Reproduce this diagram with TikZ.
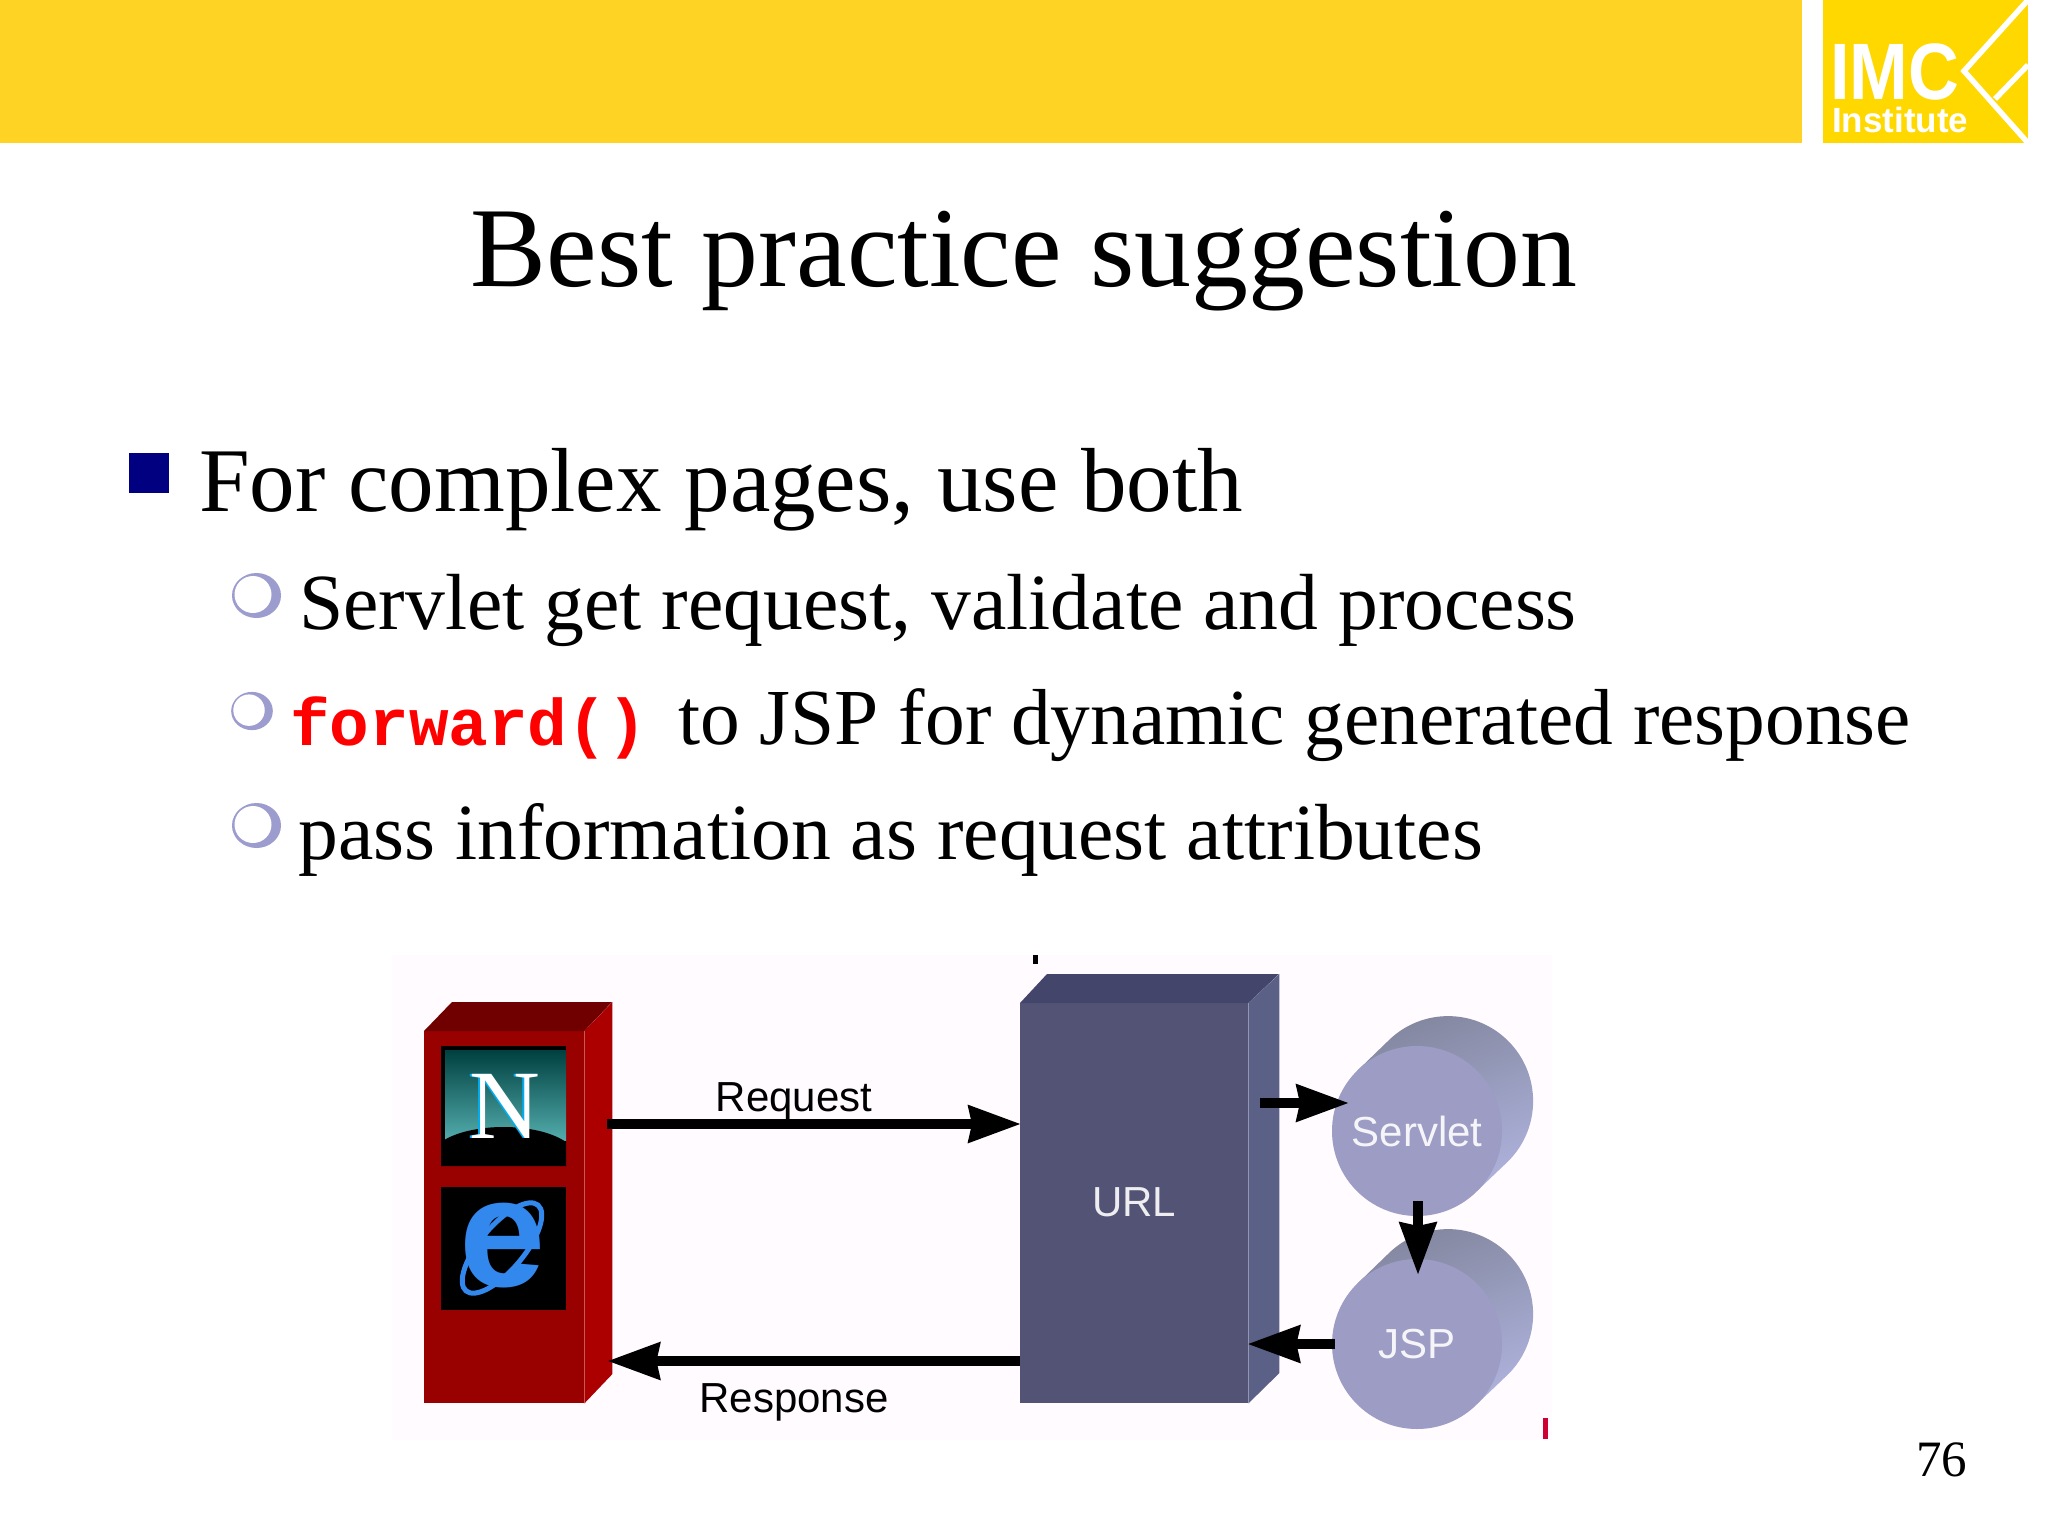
\documentclass[tikz,border=0pt]{standalone}
\usepackage{fontspec}
\setmainfont{Liberation Serif}
\setsansfont{Liberation Sans}
\setmonofont{Liberation Mono}
\usetikzlibrary{arrows.meta,calc,shapes.geometric}
\definecolor{bandyellow}{HTML}{FFD324}
\definecolor{logoyellow}{HTML}{FFD800}
\definecolor{bulletblue}{HTML}{000080}
\definecolor{ringblue}{HTML}{9C9CCF}
\definecolor{paneltint}{HTML}{FFFBFF}
\definecolor{redfront}{HTML}{990000}
\definecolor{redside}{HTML}{AC0000}
\definecolor{redtop}{HTML}{700000}
\definecolor{urlfront}{HTML}{525375}
\definecolor{urlside}{HTML}{5A6086}
\definecolor{urltop}{HTML}{44456A}
\definecolor{cylfront}{HTML}{9C9CC4}
\definecolor{cylside}{HTML}{AEB2DC}
\definecolor{cyltop}{HTML}{82869E}
\definecolor{ieblue}{HTML}{3388EE}
\tikzset{txt/.style = {inner sep = 0, anchor = base west, text = black},
         lone/.style = {txt, font = \fontsize{91}{100}\selectfont},
         ltwo/.style = {txt, font = \fontsize{79.6}{90}\selectfont},
         lbl/.style = {inner sep = 0, font = \sffamily\fontsize{42}{46}\selectfont},
         facebox/.style = {rectangle, inner sep = 0, anchor = north west, draw = none},
         flow/.style = {line width = 10pt, -{Stealth[length = 52pt, width = 36pt, inset = 3pt]}}
        }
\begin{document}
\begin{tikzpicture}[x = 1pt, y = -1pt]
\useasboundingbox (0,0) rectangle (2048,1536);
\fill[white] (0,0) rectangle (2048,1536);
\fill[bandyellow] (0,0) rectangle (1802,143);
\fill[logoyellow] (1823,0) rectangle (2028,143);
\draw[white, line width = 5.5pt] (2028,0) -- (1964,71) -- (2028,143);
\draw[white, line width = 5.5pt] (1995,99) -- (2028,65);
\node[inner sep = 0, text = white, xscale = 0.88, anchor = base west] (imc) at (1830,100) {\sffamily\bfseries\fontsize{80}{80}\selectfont IMC};
\node[inner sep = 0, text = white, anchor = base west] (inst) at (1832,133) {\sffamily\bfseries\fontsize{35}{38}\selectfont Institute};

\node[inner sep = 0, text = black, anchor = base] (title) at (1024,286) {\fontsize{113.8}{120}\selectfont Best practice suggestion};

\fill[bulletblue] (129,453) rectangle (169,493);
\foreach \n/\x/\y/\s in {1/256.5/595.5/1, 2/252/711/0.85, 3/256.5/825.5/1}
   {\begin{scope}[shift = {(\x,\y)}, scale = \s]
    \fill[ringblue] (0,0) ellipse [x radius = 24.5, y radius = 22.5];
    \fill[white] (-3.5,-1) ellipse [x radius = 18.5, y radius = 18.5];
    \end{scope}};
\node[lone] (first) at (199,511) {For complex pages, use both};
\node[ltwo] (second) at (299,629) {Servlet get request, validate and process};
\node[inner sep = 0, anchor = base west, text = red] (fwd) at (290,745) {\ttfamily\bfseries\fontsize{66}{70}\selectfont forward()};
\node[txt, font = \fontsize{79.4}{90}\selectfont] (third) at (678,744) {to JSP for dynamic generated response};
\node[ltwo] (fourth) at (298,859) {pass information as request attributes};

\fill[paneltint] (392,955) rectangle (1552,1440);
\fill[black] (1032.5,955) rectangle (1037.5,964);
\fill[red!80!blue] (1543,1418) rectangle (1547.5,1439);

\node[facebox, fill = redfront, minimum width = 160pt, minimum height = 372pt] (browser) at (424,1031) {};
\fill[redtop] (browser.north west) -- ++(28,-29) -- ++(160,0) -- (browser.north east) -- cycle;
\fill[redside] (browser.north east) -- ++(28,-29) -- ++(0,372) -- (browser.south east) -- cycle;
\node[facebox, fill = black, minimum width = 125pt, minimum height = 120pt] (nbox) at (441,1046) {};
\node[facebox, fill = black, minimum width = 125pt, minimum height = 123pt] (iebox) at (441,1187) {};
\shade[top color = cyan!25!black, bottom color = cyan!35!gray] (445,1050) rectangle (566,1140);
\fill[black] (441,1142) .. controls (470,1122) and (537,1122) .. (566,1142) -- (566,1166) -- (441,1166) -- cycle;
\node[inner sep = 0, text = cyan, anchor = base] (nshadow) at (503,1138) {\fontsize{98}{100}\selectfont N};
\node[inner sep = 0, text = white, anchor = base] (nlogo) at (505,1138) {\fontsize{98}{100}\selectfont N};
\draw[ieblue, line width = 5pt, rotate around = {50:(502,1248)}] (502,1248) ellipse [x radius = 56, y radius = 22];
\node[inner sep = 0, text = ieblue] (ielogo) at (503,1246) {\sffamily\bfseries\fontsize{155}{155}\selectfont e};

\node[facebox, fill = urlfront, minimum width = 228pt, minimum height = 400pt, text = white] (urlbox) at (1020,1003) {};
\fill[urltop] (urlbox.north west) -- ++(27,-29) -- ++(232,0) -- (urlbox.north east) -- cycle;
\fill[urlside] (urlbox.north east) -- ++(31,-29) -- ++(0,399) -- (urlbox.south east) -- cycle;
\node[lbl, text = white!90!urlfront] (urltext) at (1134,1202) {URL};

\foreach \name/\txt/\y in {servlet/Servlet/1131, jsp/JSP/1344}
   {\shade[top color = cyltop, middle color = cylside, bottom color = cylside, shading angle = 20]
       (1417-60,\y-60) -- ++(31,-30) arc [start angle = 225, end angle = 405, radius = 85] -- (1417+60,\y+60) -- cycle;
    \node[circle, fill = cylfront, minimum size = 170pt, inner sep = 0, text = white!90!cylfront,
          font = \sffamily\fontsize{42}{46}\selectfont] (\name) at (1417,\y) {\txt};};

\node[lbl, anchor = base] (reqtext) at (794,1111) {Request};
\node[lbl, anchor = base] (resptext) at (794,1412) {Response};

\draw[flow] ([shift = {(23,93)}]browser.north east) -- ([shift = {(1,121)}]urlbox.north west);
\draw[flow] ([shift = {(0,358)}]urlbox.north west) -- ([shift = {(23,330)}]browser.north east);
\draw[flow] ([shift = {(12,100)}]urlbox.north east) -- ([shift = {(-68,-28)}]servlet.center);
\draw[flow] ([shift = {(1,70)}]servlet.center) -- ([shift = {(1,-69)}]jsp.center);
\draw[flow] ([shift = {(-82,0)}]jsp.center) -- ([shift = {(-1,341)}]urlbox.north east);

\node[inner sep = 0, text = black, anchor = base west] (pageno) at (1916,1476) {\fontsize{51}{54}\selectfont 76};
\end{tikzpicture}
\end{document}
